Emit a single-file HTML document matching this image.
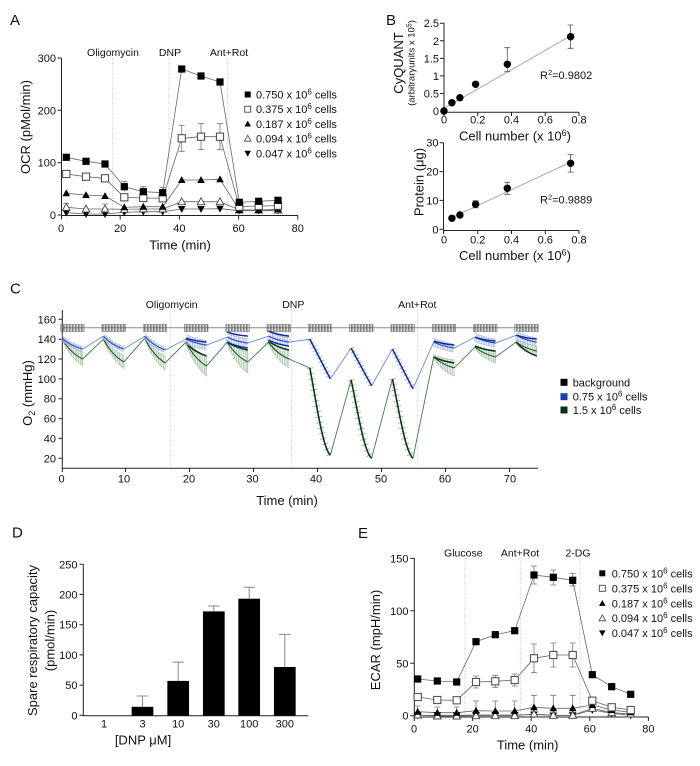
<!DOCTYPE html>
<html><head><meta charset="utf-8"><style>
html,body{margin:0;padding:0;background:#fff;}
svg{display:block;font-family:"Liberation Sans",Arial,sans-serif;fill:#111;}
</style></head><body>
<svg width="700" height="766" viewBox="0 0 700 766" xmlns="http://www.w3.org/2000/svg">
<defs>
<rect id="fs" x="-3.6" y="-3.6" width="7.2" height="7.2" fill="#000"/>
<rect id="os" x="-3.6" y="-3.6" width="7.2" height="7.2" fill="#fff" stroke="#444" stroke-width="1"/>
<path id="ft" d="M0,-3.9 L3.8,3 L-3.8,3 Z" fill="#000"/>
<path id="ot" d="M0,-3.9 L3.8,3 L-3.8,3 Z" fill="#fff" stroke="#444" stroke-width="0.9"/>
<path id="fd" d="M0,3.9 L3.8,-3 L-3.8,-3 Z" fill="#000"/>
<circle id="fc" r="3.7" fill="#000"/>
<rect id="lfs" x="-3" y="-3" width="6" height="6" fill="#000"/>
<rect id="los" x="-3" y="-3" width="6" height="6" fill="#fff" stroke="#444" stroke-width="0.9"/>
<path id="lft" d="M0,-3.3 L3.3,2.6 L-3.3,2.6 Z" fill="#000"/>
<path id="lot" d="M0,-3.3 L3.3,2.6 L-3.3,2.6 Z" fill="#fff" stroke="#444" stroke-width="0.8"/>
<path id="lfd" d="M0,3.3 L3.3,-2.6 L-3.3,-2.6 Z" fill="#000"/>
<pattern id="pg" width="1.5" height="20" patternUnits="userSpaceOnUse"><rect width="0.7" height="20" fill="#555"/></pattern>
<pattern id="pb" width="1.7" height="20" patternUnits="userSpaceOnUse"><rect width="0.65" height="20" fill="#8ea2e0"/></pattern>
<pattern id="pgr" width="1.7" height="20" patternUnits="userSpaceOnUse"><rect width="0.65" height="20" fill="#8fb08f"/></pattern>
<path id="b0" d="M62.1,338.15 Q70.35,345.7 82.6,349.07"/>
<path id="b1" d="M103.4,336.16 Q111.65,345.08 123.9,349.07"/>
<path id="b2" d="M144.7,336.16 Q152.95,345.76 165.2,350.06"/>
<path id="b3" d="M186,339.14 Q194.25,343.26 206.5,345.1"/>
<path id="b4" d="M227.3,337.16 Q235.55,341.26 247.8,343.1"/>
<path id="b5" d="M268.5,336.16 Q276.75,340.28 289,342.12"/>
<path id="b6" d="M309.8,339.14 L330.3,378.86"/>
<path id="b7" d="M351.1,348.08 L371.6,385.8"/>
<path id="b8" d="M392.4,349.07 L412.9,388.8"/>
<path id="b9" d="M433.7,342.12 Q441.95,346.24 454.2,348.08"/>
<path id="b10" d="M475,337.16 Q483.25,341.26 495.5,343.1"/>
<path id="b11" d="M516.2,335.17 Q524.45,339.97 536.7,342.12"/>
<path id="g6" d="M309.8,367.94 C315.95,399.39 322.1,446.56 330.3,455.3"/>
<path id="g7" d="M351.1,379.85 C357.25,408.09 363.4,450.45 371.6,458.3"/>
<path id="g8" d="M392.4,378.86 C398.55,407.46 404.7,450.36 412.9,458.3"/>
</defs>

<!-- ============ PANEL A ============ -->
<text x="10" y="25" font-size="15">A</text>
<g stroke="#bbb" stroke-width="0.8" stroke-dasharray="1 1.5">
<line x1="112.7" y1="58" x2="112.7" y2="215"/><line x1="169" y1="58" x2="169" y2="215"/><line x1="227.7" y1="58" x2="227.7" y2="215"/>
</g>
<g font-size="10.5" text-anchor="middle">
<text x="113" y="56">Oligomycin</text><text x="170" y="56">DNP</text><text x="229" y="56">Ant+Rot</text>
</g>
<g stroke="#222" stroke-width="1" fill="none">
<path d="M61.5,58 V215.5 H298"/>
<path d="M57.5,58H61.5M57.5,110.3H61.5M57.5,162.7H61.5M57.5,215H61.5"/>
<path d="M61.5,215.5V219.5M120.2,215.5V219.5M179.4,215.5V219.5M238.6,215.5V219.5M297.8,215.5V219.5"/>
</g>
<g font-size="11" text-anchor="end">
<text x="56" y="62">300</text><text x="56" y="114.3">200</text><text x="56" y="166.7">100</text><text x="56" y="219">0</text>
</g>
<g font-size="11" text-anchor="middle">
<text x="61" y="232">0</text><text x="120.2" y="232">20</text><text x="179.4" y="232">40</text><text x="238.6" y="232">60</text><text x="297.8" y="232">80</text>
</g>
<text x="180" y="249.5" font-size="13" text-anchor="middle">Time (min)</text>
<text transform="translate(30,127) rotate(-90)" font-size="13" text-anchor="middle">OCR (pMol/min)</text>
<g fill="none" stroke="#666" stroke-width="0.8">
<polyline points="66.3,157.3 86,161.3 105,164 124.3,186.7 143.3,191.7 162.7,192.7 181.7,69 201,76 220,82 239.3,202.3 258.7,201.3 278,200.3"/>
<polyline points="66.3,174 86,176.7 105,178.3 124.3,197.3 143.3,198 162.7,198.3 181.7,138.3 201,136.7 220,136.7 239.3,206.7 258.7,206 278,205.7"/>
<polyline points="66.3,193.3 86,195 105,196 124.3,207.3 143.3,206.7 162.7,206.7 181.7,180 201,180 220,179.3 239.3,210 258.7,210 278,209.3"/>
<polyline points="66.3,207.3 86,209 105,209 124.3,209.3 143.3,209 162.7,209 181.7,201.7 201,201.7 220,201.7 239.3,210 258.7,210 278,210"/>
<polyline points="66.3,212.7 86,214 105,214 124.3,212.3 143.3,211.7 162.7,211.7 181.7,209 201,209 220,208.7 239.3,210.7 258.7,210.7 278,210.7"/>
</g>
<g fill="none" stroke="#777" stroke-width="0.8">
<path d="M181.7,125.3V151.3M178.7,125.3H184.7M178.7,151.3H184.7M201,123.7V149.7M198,123.7H204M198,149.7H204M220,123.7V149.7M217,123.7H223M217,149.7H223"/>
<path d="M124.3,181.7V191.7M121.3,181.7H127.3M143.3,186.7V196.7M140.3,186.7H146.3M162.7,187.7V197.7M159.7,187.7H165.7"/>
<path d="M66.3,203.3V211M63.3,203.3H69.3M105,204V212M102,204H108"/>
</g>
<g>
<use href="#fd" x="66.3" y="212.7"/><use href="#fd" x="86" y="214"/><use href="#fd" x="105" y="214"/><use href="#fd" x="124.3" y="212.3"/><use href="#fd" x="143.3" y="211.7"/><use href="#fd" x="162.7" y="211.7"/><use href="#fd" x="181.7" y="209"/><use href="#fd" x="201" y="209"/><use href="#fd" x="220" y="208.7"/><use href="#fd" x="239.3" y="210.7"/><use href="#fd" x="258.7" y="210.7"/><use href="#fd" x="278" y="210.7"/>
<use href="#ot" x="66.3" y="207.3"/><use href="#ot" x="86" y="209"/><use href="#ot" x="105" y="209"/><use href="#ot" x="124.3" y="209.3"/><use href="#ot" x="143.3" y="209"/><use href="#ot" x="162.7" y="209"/><use href="#ot" x="181.7" y="201.7"/><use href="#ot" x="201" y="201.7"/><use href="#ot" x="220" y="201.7"/><use href="#ot" x="239.3" y="210"/><use href="#ot" x="258.7" y="210"/><use href="#ot" x="278" y="210"/>
<use href="#ft" x="66.3" y="193.3"/><use href="#ft" x="86" y="195"/><use href="#ft" x="105" y="196"/><use href="#ft" x="124.3" y="207.3"/><use href="#ft" x="143.3" y="206.7"/><use href="#ft" x="162.7" y="206.7"/><use href="#ft" x="181.7" y="180"/><use href="#ft" x="201" y="180"/><use href="#ft" x="220" y="179.3"/><use href="#ft" x="239.3" y="210"/><use href="#ft" x="258.7" y="210"/><use href="#ft" x="278" y="209.3"/>
<use href="#os" x="66.3" y="174"/><use href="#os" x="86" y="176.7"/><use href="#os" x="105" y="178.3"/><use href="#os" x="124.3" y="197.3"/><use href="#os" x="143.3" y="198"/><use href="#os" x="162.7" y="198.3"/><use href="#os" x="181.7" y="138.3"/><use href="#os" x="201" y="136.7"/><use href="#os" x="220" y="136.7"/><use href="#os" x="239.3" y="206.7"/><use href="#os" x="258.7" y="206"/><use href="#os" x="278" y="205.7"/>
<use href="#fs" x="66.3" y="157.3"/><use href="#fs" x="86" y="161.3"/><use href="#fs" x="105" y="164"/><use href="#fs" x="124.3" y="186.7"/><use href="#fs" x="143.3" y="191.7"/><use href="#fs" x="162.7" y="192.7"/><use href="#fs" x="181.7" y="69"/><use href="#fs" x="201" y="76"/><use href="#fs" x="220" y="82"/><use href="#fs" x="239.3" y="202.3"/><use href="#fs" x="258.7" y="201.3"/><use href="#fs" x="278" y="200.3"/>
</g>
<g font-size="11">
<use href="#lfs" x="247.7" y="94.5"/><text x="256" y="98.5">0.750 x 10<tspan dy="-4" font-size="8">6</tspan><tspan dy="4"> cells</tspan></text>
<use href="#los" x="247.7" y="109.2"/><text x="256" y="113.2">0.375 x 10<tspan dy="-4" font-size="8">6</tspan><tspan dy="4"> cells</tspan></text>
<use href="#lft" x="247.7" y="123.9"/><text x="256" y="127.9">0.187 x 10<tspan dy="-4" font-size="8">6</tspan><tspan dy="4"> cells</tspan></text>
<use href="#lot" x="247.7" y="138.6"/><text x="256" y="142.6">0.094 x 10<tspan dy="-4" font-size="8">6</tspan><tspan dy="4"> cells</tspan></text>
<use href="#lfd" x="247.7" y="153.3"/><text x="256" y="157.3">0.047 x 10<tspan dy="-4" font-size="8">6</tspan><tspan dy="4"> cells</tspan></text>
</g>

<!-- ============ PANEL B ============ -->
<text x="386" y="25" font-size="15">B</text>
<g stroke="#222" stroke-width="1" fill="none">
<path d="M444,23 V112.3 H579"/>
<path d="M440,23.25H444M440,40.8H444M440,58.35H444M440,75.9H444M440,93.45H444M440,111H444"/>
<path d="M444,112.3V116M477.75,112.3V116M511.5,112.3V116M545.25,112.3V116M579,112.3V116"/>
<path d="M443.5,142.7 V230.5 H579"/>
<path d="M439.5,142.7H443.5M439.5,171.6H443.5M439.5,200.4H443.5M439.5,229.3H443.5"/>
<path d="M443.5,230.5V234M477.75,230.5V234M511.5,230.5V234M545.25,230.5V234M579,230.5V234"/>
</g>
<g font-size="11" text-anchor="end">
<text x="439" y="27.2">2.5</text><text x="439" y="44.8">2</text><text x="439" y="62.3">1.5</text><text x="439" y="79.9">1</text><text x="439" y="97.4">0.5</text><text x="439" y="115">0</text>
<text x="438.5" y="146.7">30</text><text x="438.5" y="175.6">20</text><text x="438.5" y="204.4">10</text><text x="438.5" y="233.3">0</text>
</g>
<g font-size="11" text-anchor="middle">
<text x="444" y="123.5">0</text><text x="477.75" y="123.5">0.2</text><text x="511.5" y="123.5">0.4</text><text x="545.25" y="123.5">0.6</text><text x="579" y="123.5">0.8</text>
<text x="444" y="243.5">0</text><text x="477.75" y="243.5">0.2</text><text x="511.5" y="243.5">0.4</text><text x="545.25" y="243.5">0.6</text><text x="579" y="243.5">0.8</text>
</g>
<text x="515" y="140.5" font-size="13" text-anchor="middle">Cell number (x 10<tspan dy="-4.5" font-size="9">6</tspan><tspan dy="4.5">)</tspan></text>
<text x="515" y="260" font-size="13" text-anchor="middle">Cell number (x 10<tspan dy="-4.5" font-size="9">6</tspan><tspan dy="4.5">)</tspan></text>
<text transform="translate(403,63) rotate(-90)" font-size="13" text-anchor="middle">CyQUANT</text>
<text transform="translate(414.5,63) rotate(-90)" font-size="9.5" text-anchor="middle">(arbitraryunits x 10<tspan dy="-3" font-size="7">5</tspan><tspan dy="3">)</tspan></text>
<text transform="translate(423.5,182) rotate(-90)" font-size="13" text-anchor="middle">Protein (μg)</text>
<g stroke="#aaa" stroke-width="1"><line x1="444" y1="108.3" x2="575" y2="33.3"/><line x1="452" y1="217.5" x2="573" y2="161"/></g>
<g fill="none" stroke="#555" stroke-width="0.8">
<path d="M507.3,47.7V71.7M504.3,47.7H510.3M504.3,71.7H510.3M570.6,25V48.3M567.6,25H573.6M567.6,48.3H573.6"/>
<path d="M475.6,200.8V207.8M472.6,200.8H478.6M472.6,207.8H478.6M507.3,182.3V194.3M504.3,182.3H510.3M504.3,194.3H510.3M570.6,154.5V172.1M567.6,154.5H573.6M567.6,172.1H573.6"/>
</g>
<g>
<use href="#fc" x="444" y="111"/><use href="#fc" x="451.9" y="102.7"/><use href="#fc" x="459.9" y="97.7"/><use href="#fc" x="475.6" y="84.3"/><use href="#fc" x="507.3" y="64.3"/><use href="#fc" x="570.6" y="36.7"/>
<use href="#fc" x="451.9" y="218.3"/><use href="#fc" x="459.9" y="215"/><use href="#fc" x="475.6" y="204.3"/><use href="#fc" x="507.3" y="188.3"/><use href="#fc" x="570.6" y="163.3"/>
</g>
<g font-size="11">
<text x="540" y="79">R<tspan dy="-4" font-size="7.5">2</tspan><tspan dy="4">=0.9802</tspan></text>
<text x="540" y="203.5">R<tspan dy="-4" font-size="7.5">2</tspan><tspan dy="4">=0.9889</tspan></text>
</g>

<!-- ============ PANEL C ============ -->
<text x="10" y="293.5" font-size="15">C</text>
<g stroke="#bbb" stroke-width="0.8" stroke-dasharray="1 1.5">
<line x1="170.7" y1="310" x2="170.7" y2="468"/><line x1="291.7" y1="310" x2="291.7" y2="468"/><line x1="417.7" y1="310" x2="417.7" y2="468"/>
</g>
<g font-size="10.5" text-anchor="middle">
<text x="171.7" y="308">Oligomycin</text><text x="293.3" y="308">DNP</text><text x="417.3" y="308">Ant+Rot</text>
</g>
<g stroke="#222" stroke-width="1" fill="none">
<path d="M62.3,310 V468.3 H538"/>
<path d="M58.5,319.3H62.3M58.5,339.2H62.3M58.5,359H62.3M58.5,378.9H62.3M58.5,398.7H62.3M58.5,418.6H62.3M58.5,438.4H62.3M58.5,458.3H62.3"/>
<path d="M62.3,468.3V472M125.5,468.3V472M189.5,468.3V472M253.5,468.3V472M317.5,468.3V472M381.5,468.3V472M445.5,468.3V472M509.5,468.3V472"/>
</g>
<g font-size="11" text-anchor="end">
<text x="56" y="323.3">160</text><text x="56" y="343.2">140</text><text x="56" y="363">120</text><text x="56" y="382.9">100</text><text x="56" y="402.7">80</text><text x="56" y="422.6">60</text><text x="56" y="442.4">40</text><text x="56" y="462.3">20</text>
</g>
<g font-size="11" text-anchor="middle">
<text x="61.5" y="482.5">0</text><text x="124" y="482.5">10</text><text x="189" y="482.5">20</text><text x="252.5" y="482.5">30</text><text x="316" y="482.5">40</text><text x="381" y="482.5">50</text><text x="445" y="482.5">60</text><text x="510" y="482.5">70</text>
</g>
<text x="287" y="505" font-size="13" text-anchor="middle">Time (min)</text>
<text transform="translate(32,393) rotate(-90)" font-size="13" text-anchor="middle">O<tspan dy="3" font-size="9">2</tspan><tspan dy="-3"> (mmHg)</tspan></text>
<!-- background -->
<line x1="62.3" y1="327.7" x2="538" y2="327.7" stroke="#8a8a8a" stroke-width="1"/>
<g fill="url(#pg)" stroke="#777" stroke-width="0.6">
<rect x="60.6" y="324.5" width="23.5" height="7"/><rect x="101.9" y="324.5" width="23.5" height="7"/><rect x="143.2" y="324.5" width="23.5" height="7"/><rect x="184.5" y="324.5" width="23.5" height="7"/><rect x="225.8" y="324.5" width="23.5" height="7"/><rect x="267" y="324.5" width="23.5" height="7"/><rect x="308.3" y="324.5" width="23.5" height="7"/><rect x="349.6" y="324.5" width="23.5" height="7"/><rect x="390.9" y="324.5" width="23.5" height="7"/><rect x="432.2" y="324.5" width="23.5" height="7"/><rect x="473.5" y="324.5" width="23.5" height="7"/><rect x="514.7" y="324.5" width="23.5" height="7"/>
</g>
<!-- green bands -->
<g fill="url(#pgr)" stroke="#a8c4a8" stroke-width="0.7">
<path d="M62.1,338.14 Q70.35,348.06 82.6,352.5 L82.6,365.5 Q70.35,357.66 62.1,340.14 Z"/>
<path d="M103.4,338.14 Q111.65,350.12 123.9,355.48 L123.9,368.48 Q111.65,359.72 103.4,340.14 Z"/>
<path d="M144.7,337.15 Q152.95,350.15 165.2,355.97 L165.2,369.97 Q152.95,360.45 144.7,339.15 Z"/>
<path d="M186,340.12 Q194.25,351.06 206.5,355.95 L206.5,375.95 Q194.25,366.12 186,344.12 Z"/>
<path d="M227.3,340.12 Q235.55,347.62 247.8,350.98 L247.8,372.98 Q235.55,364.06 227.3,344.12 Z"/>
<path d="M268.5,340.12 Q276.75,346.94 289,350 L289,368 Q276.75,360.62 268.5,344.12 Z"/>
<path d="M433.7,355 Q441.95,358.41 454.2,359.94 L454.2,375.94 Q441.95,370.71 433.7,359 Z"/>
<path d="M475,345.08 Q483.25,349.17 495.5,351 L495.5,363 Q483.25,358.69 475,349.08 Z"/>
<path d="M516.2,340.12 Q524.45,344.23 536.7,346.06 L536.7,356.06 Q524.45,352.37 516.2,344.12 Z"/>
</g>
<g fill="none" stroke="#9cbc9c" stroke-width="7" stroke-dasharray="0.9 4.6">
<use href="#g6"/><use href="#g7"/><use href="#g8"/>
</g>
<!-- green lines -->
<g fill="none" stroke="#3f7a4c" stroke-width="0.9">
<path d="M82.6,359L103.4,339.14M123.9,361.98L144.7,338.15M165.2,362.97L186,342.12M206.5,365.95L227.3,342.12M247.8,361.98L268.5,342.12M289,359L309.8,367.94M330.3,455.3L351.1,379.85M371.6,458.3L392.4,378.86M412.9,458.3L433.7,357M454.2,367.94L475,347.08M495.5,357L516.2,342.12"/>
</g>
<g fill="none" stroke="#1f5a2a" stroke-width="1.1">
<path d="M62.1,339.14 Q70.35,352.86 82.6,359"/>
<path d="M103.4,339.14 Q111.65,354.92 123.9,361.98"/>
<path d="M144.7,338.15 Q152.95,355.3 165.2,362.97"/>
<path d="M186,342.12 Q194.25,358.59 206.5,365.95"/>
<path d="M227.3,342.12 Q235.55,355.84 247.8,361.98"/>
<path d="M268.5,342.12 Q276.75,353.78 289,359"/>
<path d="M433.7,357 Q441.95,364.56 454.2,367.94"/>
<path d="M475,347.08 Q483.25,353.93 495.5,357"/>
<path d="M516.2,342.12 Q524.45,348.3 536.7,351.06"/>
</g>
<g fill="none" stroke="#0a3a12" stroke-width="1.6">
<use href="#g6"/><use href="#g7"/><use href="#g8"/>
<path d="M186,343.1 Q194.25,352.01 206.5,356"/>
<path d="M227.3,342.12 Q235.55,347.61 247.8,350.06"/>
<path d="M268.5,341.13 Q276.75,347.3 289,350.06"/>
<path d="M433.7,357 Q441.95,361.13 454.2,362.97"/>
<path d="M475,346.09 Q483.25,349.52 495.5,351.06"/>
<path d="M516.2,342.12 Q524.45,351.71 536.7,356"/>
</g>
<!-- blue bands -->
<g fill="none" stroke="url(#pb)">
<use href="#b0" stroke-width="5"/><use href="#b1" stroke-width="5"/><use href="#b2" stroke-width="5"/>
<use href="#b3" stroke-width="9"/><use href="#b4" stroke-width="9"/><use href="#b5" stroke-width="9"/>
<use href="#b9" stroke-width="8"/><use href="#b10" stroke-width="8"/><use href="#b11" stroke-width="8"/>
</g>
<g fill="none" stroke="#a9b8e8" stroke-width="0.7">
<use href="#b0" transform="translate(0,-2.5)"/><use href="#b0" transform="translate(0,2.5)"/>
<use href="#b1" transform="translate(0,-2.5)"/><use href="#b1" transform="translate(0,2.5)"/>
<use href="#b2" transform="translate(0,-2.5)"/><use href="#b2" transform="translate(0,2.5)"/>
<use href="#b3" transform="translate(0,-4.5)"/><use href="#b3" transform="translate(0,4.5)"/>
<use href="#b4" transform="translate(0,-4.5)"/><use href="#b4" transform="translate(0,4.5)"/>
<use href="#b5" transform="translate(0,-4.5)"/><use href="#b5" transform="translate(0,4.5)"/>
<use href="#b9" transform="translate(0,-4)"/><use href="#b9" transform="translate(0,4)"/>
<use href="#b10" transform="translate(0,-4)"/><use href="#b10" transform="translate(0,4)"/>
<use href="#b11" transform="translate(0,-4)"/><use href="#b11" transform="translate(0,4)"/>
</g>
<g fill="none" stroke="#9fb0e6" stroke-width="6" stroke-dasharray="0.9 3.2">
<use href="#b6"/><use href="#b7"/><use href="#b8"/>
</g>
<g fill="none" stroke="#6f88d8" stroke-width="0.9">
<path d="M82.6,349.07L103.4,336.16M123.9,349.07L144.7,336.16M165.2,350.06L186,339.14M206.5,345.1L227.3,337.16M247.8,343.1L268.5,336.16M289,342.12L309.8,339.14M330.3,378.86L351.1,348.08M371.6,385.8L392.4,349.07M412.9,388.8L433.7,342.12M454.2,348.08L475,337.16M495.5,343.1L516.2,335.17"/>
</g>
<g fill="none" stroke="#2d4fc0" stroke-width="1.2">
<use href="#b0"/><use href="#b1"/><use href="#b2"/><use href="#b3"/><use href="#b4"/><use href="#b5"/><use href="#b9"/><use href="#b10"/><use href="#b11"/>
</g>
<g fill="none" stroke="#0b2a9c" stroke-width="1.5">
<use href="#b6"/><use href="#b7"/><use href="#b8"/>
<path d="M186,338.15 Q194.25,340.89 206.5,342.12"/>
<path d="M227.3,332.19 Q235.55,334.93 247.8,336.16"/>
<path d="M227.3,342.12 Q235.55,346.24 247.8,348.08"/>
<path d="M268.5,331.2 Q276.75,334.63 289,336.16"/>
<path d="M268.5,340.13 Q276.75,344.25 289,346.09"/>
<path d="M433.7,341.13 Q441.95,343.87 454.2,345.1"/>
<path d="M475,337.16 Q483.25,339.9 495.5,341.13"/>
<path d="M516.2,335.17 Q524.45,337.91 536.7,339.14"/>
</g>
<!-- legend C -->
<rect x="560.5" y="378.8" width="7" height="7" fill="#000"/>
<rect x="560.5" y="393.2" width="7" height="7" fill="#1a3db0"/>
<rect x="560.5" y="406.5" width="7" height="7" fill="#0b3310"/>
<g font-size="11">
<text x="572.7" y="386.3">background</text>
<text x="572.7" y="400.7">0.75 x 10<tspan dy="-4" font-size="8">6</tspan><tspan dy="4"> cells</tspan></text>
<text x="572.7" y="414">1.5 x 10<tspan dy="-4" font-size="8">6</tspan><tspan dy="4"> cells</tspan></text>
</g>

<!-- ============ PANEL D ============ -->
<text x="12" y="537.5" font-size="15">D</text>
<g stroke="#222" stroke-width="1" fill="none">
<path d="M83.3,564 V715.8 H308.3"/>
<path d="M79.5,564.3H83.3M79.5,594.5H83.3M79.5,624.7H83.3M79.5,654.9H83.3M79.5,685.1H83.3M79.5,715.3H83.3"/>
</g>
<g font-size="11" text-anchor="end">
<text x="77.5" y="568.3">250</text><text x="77.5" y="598.5">200</text><text x="77.5" y="628.7">150</text><text x="77.5" y="658.9">100</text><text x="77.5" y="689.1">50</text><text x="77.5" y="719.3">0</text>
</g>
<g fill="none" stroke="#888" stroke-width="1">
<path d="M142.5,706.8V696M136.7,696H148.3"/>
<path d="M178.2,680.9V662.1M172.4,662.1H184"/>
<path d="M213.8,611.4V606M208,606H219.6"/>
<path d="M249.2,598.7V587.3M243.4,587.3H255"/>
<path d="M284.8,667V634.4M279,634.4H290.6"/>
</g>
<g fill="#000">
<rect x="131.65" y="706.8" width="21.7" height="8.7"/>
<rect x="167.35" y="680.9" width="21.7" height="34.6"/>
<rect x="202.95" y="611.4" width="21.7" height="104.1"/>
<rect x="238.35" y="598.7" width="21.7" height="116.8"/>
<rect x="273.95" y="667" width="21.7" height="48.5"/>
</g>
<g font-size="11" text-anchor="middle">
<text x="104" y="727.5">1</text><text x="142.5" y="727.5">3</text><text x="178.2" y="727.5">10</text><text x="213.8" y="727.5">30</text><text x="249.2" y="727.5">100</text><text x="284.8" y="727.5">300</text>
</g>
<text x="143" y="744.5" font-size="13" text-anchor="middle">[DNP μM]</text>
<text transform="translate(37,640.5) rotate(-90)" font-size="13" text-anchor="middle">Spare respiratory capacity</text>
<text transform="translate(54.5,640.5) rotate(-90)" font-size="13" text-anchor="middle">(pmol/min)</text>

<!-- ============ PANEL E ============ -->
<text x="358" y="538" font-size="15">E</text>
<g stroke="#bbb" stroke-width="0.8" stroke-dasharray="1 1.5">
<line x1="465" y1="558" x2="465" y2="716"/><line x1="520.3" y1="558" x2="520.3" y2="716"/><line x1="580" y1="558" x2="580" y2="716"/>
</g>
<g font-size="10.5" text-anchor="middle">
<text x="463.3" y="556.7">Glucose</text><text x="520" y="556.7">Ant+Rot</text><text x="578" y="556.7">2-DG</text>
</g>
<g stroke="#222" stroke-width="1" fill="none">
<path d="M414.3,558 V717 H648.5"/>
<path d="M410.3,558.4H414.3M410.3,610.8H414.3M410.3,663.3H414.3M410.3,715.7H414.3"/>
<path d="M414.3,717V721M472.6,717V721M531.2,717V721M589.8,717V721M648.4,717V721"/>
</g>
<g font-size="11" text-anchor="end">
<text x="408.5" y="562.4">150</text><text x="408.5" y="614.8">100</text><text x="408.5" y="667.3">50</text><text x="408.5" y="719.7">0</text>
</g>
<g font-size="11" text-anchor="middle">
<text x="414" y="732.5">0</text><text x="472.6" y="732.5">20</text><text x="531.2" y="732.5">40</text><text x="589.8" y="732.5">60</text><text x="648.4" y="732.5">80</text>
</g>
<text x="527.7" y="749.5" font-size="13" text-anchor="middle">Time (min)</text>
<text transform="translate(380,640) rotate(-90)" font-size="13" text-anchor="middle">ECAR (mpH/min)</text>
<g fill="none" stroke="#777" stroke-width="0.8">
<path d="M534,566V584M531,566H537M531,584H537M553.3,570V585M550.3,570H556.3M550.3,585H556.3M572.7,573.3V586M569.7,573.3H575.7M569.7,586H575.7"/>
<path d="M476,676V688M473,676H479M473,688H479M495.3,675.3V687.3M492.3,675.3H498.3M492.3,687.3H498.3M514.7,674V686M511.7,674H517.7M511.7,686H517.7"/>
<path d="M534,644V672.7M531,644H537M531,672.7H537M553.3,643V667M550.3,643H556.3M550.3,667H556.3M572.7,643V667M569.7,643H575.7M569.7,667H575.7"/>
<path d="M417.7,706V716M414.7,706H420.7M437.3,707V716M434.3,707H440.3M456.7,707V716M453.7,707H459.7"/>
<path d="M476,701V716M473,701H479M495.3,701V716M492.3,701H498.3M514.7,701V716M511.7,701H517.7"/>
<path d="M534,695.3V716M531,695.3H537M553.3,695.3V716M550.3,695.3H556.3M572.7,695.3V716M569.7,695.3H575.7M592.3,700V712M589.3,700H595.3"/>
</g>
<g fill="none" stroke="#666" stroke-width="0.8">
<polyline points="417.7,679 437.3,681 456.7,682 476,641.7 495.3,634.7 514.7,630.7 534,575 553.3,577.3 572.7,580.3 592.3,674.7 611.7,686.7 630.7,694.3"/>
<polyline points="417.7,697 437.3,700 456.7,700.3 476,682 495.3,681.3 514.7,680 534,658.3 553.3,655 572.7,655 592.3,700.7 611.7,707.3 630.7,710"/>
<polyline points="417.7,711.7 437.3,712.7 456.7,712.7 476,710.7 495.3,711 514.7,711 534,707.3 553.3,708.3 572.7,708.3 592.3,705 611.7,710 630.7,712.3"/>
<polyline points="417.7,715 437.3,716 456.7,716 476,715.7 495.3,715.7 514.7,715.7 534,714 553.3,715.3 572.7,715.3 592.3,708.3 611.7,712.7 630.7,714"/>
<polyline points="417.7,715.3 437.3,715.3 456.7,715.3 476,715 495.3,715 514.7,715 534,714.5 553.3,715.5 572.7,715.3 592.3,710 611.7,713.3 630.7,715.3"/>
</g>
<g>
<use href="#fd" x="417.7" y="715.3"/><use href="#fd" x="437.3" y="715.3"/><use href="#fd" x="456.7" y="715.3"/><use href="#fd" x="476" y="715"/><use href="#fd" x="495.3" y="715"/><use href="#fd" x="514.7" y="715"/><use href="#fd" x="534" y="714.5"/><use href="#fd" x="553.3" y="715.5"/><use href="#fd" x="572.7" y="715.3"/><use href="#fd" x="592.3" y="710"/><use href="#fd" x="611.7" y="713.3"/><use href="#fd" x="630.7" y="715.3"/>
<use href="#ot" x="417.7" y="715"/><use href="#ot" x="437.3" y="716"/><use href="#ot" x="456.7" y="716"/><use href="#ot" x="476" y="715.7"/><use href="#ot" x="495.3" y="715.7"/><use href="#ot" x="514.7" y="715.7"/><use href="#ot" x="534" y="714"/><use href="#ot" x="553.3" y="715.3"/><use href="#ot" x="572.7" y="715.3"/><use href="#ot" x="592.3" y="708.3"/><use href="#ot" x="611.7" y="712.7"/><use href="#ot" x="630.7" y="714"/>
<use href="#ft" x="417.7" y="711.7"/><use href="#ft" x="437.3" y="712.7"/><use href="#ft" x="456.7" y="712.7"/><use href="#ft" x="476" y="710.7"/><use href="#ft" x="495.3" y="711"/><use href="#ft" x="514.7" y="711"/><use href="#ft" x="534" y="707.3"/><use href="#ft" x="553.3" y="708.3"/><use href="#ft" x="572.7" y="708.3"/><use href="#ft" x="592.3" y="705"/><use href="#ft" x="611.7" y="710"/><use href="#ft" x="630.7" y="712.3"/>
<use href="#os" x="417.7" y="697"/><use href="#os" x="437.3" y="700"/><use href="#os" x="456.7" y="700.3"/><use href="#os" x="476" y="682"/><use href="#os" x="495.3" y="681.3"/><use href="#os" x="514.7" y="680"/><use href="#os" x="534" y="658.3"/><use href="#os" x="553.3" y="655"/><use href="#os" x="572.7" y="655"/><use href="#os" x="592.3" y="700.7"/><use href="#os" x="611.7" y="707.3"/><use href="#os" x="630.7" y="710"/>
<use href="#fs" x="417.7" y="679"/><use href="#fs" x="437.3" y="681"/><use href="#fs" x="456.7" y="682"/><use href="#fs" x="476" y="641.7"/><use href="#fs" x="495.3" y="634.7"/><use href="#fs" x="514.7" y="630.7"/><use href="#fs" x="534" y="575"/><use href="#fs" x="553.3" y="577.3"/><use href="#fs" x="572.7" y="580.3"/><use href="#fs" x="592.3" y="674.7"/><use href="#fs" x="611.7" y="686.7"/><use href="#fs" x="630.7" y="694.3"/>
</g>
<g font-size="11">
<use href="#lfs" x="602.3" y="573.3"/><text x="611.7" y="577.3">0.750 x 10<tspan dy="-4" font-size="8">6</tspan><tspan dy="4"> cells</tspan></text>
<use href="#los" x="602.3" y="588.3"/><text x="611.7" y="592.3">0.375 x 10<tspan dy="-4" font-size="8">6</tspan><tspan dy="4"> cells</tspan></text>
<use href="#lft" x="602.3" y="603.3"/><text x="611.7" y="607.3">0.187 x 10<tspan dy="-4" font-size="8">6</tspan><tspan dy="4"> cells</tspan></text>
<use href="#lot" x="602.3" y="618.2"/><text x="611.7" y="622.2">0.094 x 10<tspan dy="-4" font-size="8">6</tspan><tspan dy="4"> cells</tspan></text>
<use href="#lfd" x="602.3" y="633"/><text x="611.7" y="637">0.047 x 10<tspan dy="-4" font-size="8">6</tspan><tspan dy="4"> cells</tspan></text>
</g>
</svg>
</body></html>
